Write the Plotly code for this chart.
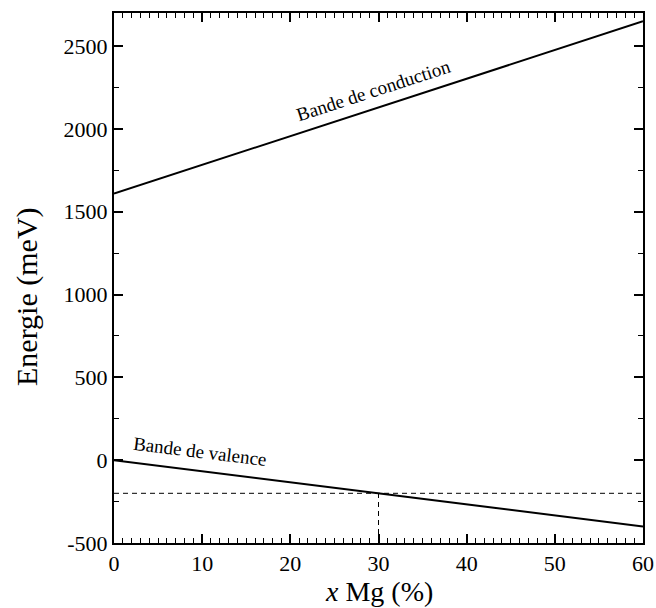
import plotly.graph_objects as go

# Data
x_mg = [0, 60]
conduction = [1610, 2650]
valence = [0, -400]
dash_h_x = [0, 60]
dash_h_y = [-200, -200]
dash_v_x = [30, 30]
dash_v_y = [-500, -200]
x_ticks = [0, 10, 20, 30, 40, 50, 60]
y_ticks = [-500, 0, 500, 1000, 1500, 2000, 2500]
y_ticklabels = ["-500", "0", "500", "1000", "1500", "2000", "2500"]

font = "Liberation Serif"

fig = go.Figure()
fig.add_trace(go.Scatter(x=x_mg, y=conduction, mode="lines",
                         line=dict(color="black", width=2), showlegend=False))
fig.add_trace(go.Scatter(x=x_mg, y=valence, mode="lines",
                         line=dict(color="black", width=2), showlegend=False))
fig.add_trace(go.Scatter(x=dash_h_x, y=dash_h_y, mode="lines",
                         line=dict(color="black", width=1, dash="5px,4px"), showlegend=False))
fig.add_trace(go.Scatter(x=dash_v_x, y=dash_v_y, mode="lines",
                         line=dict(color="black", width=1, dash="5px,4px"), showlegend=False))

fig.add_annotation(x=29.4, y=2235, text="Bande de conduction", showarrow=False,
                   textangle=-18, font=dict(family=font, size=19, color="black"))
fig.add_annotation(x=9.8, y=55, text="Bande de valence", showarrow=False,
                   textangle=7, font=dict(family=font, size=19, color="black"))
# y-axis title
fig.add_annotation(xref="paper", yref="paper", x=-0.1645, y=0.466,
                   xanchor="center", yanchor="middle",
                   text="Energie (meV)", showarrow=False, textangle=-90,
                   font=dict(family=font, size=30, color="black"))
# x-axis title
fig.add_annotation(xref="paper", yref="paper", x=0.5, y=-0.091,
                   xanchor="center", yanchor="middle",
                   text="<i>x</i> Mg (%)", showarrow=False,
                   font=dict(family=font, size=28, color="black"))

axis_common = dict(
    showline=True, linecolor="black", linewidth=2, mirror="allticks",
    ticks="inside", ticklen=9, tickwidth=1.5, tickcolor="black",
    showgrid=False, zeroline=False,
    tickfont=dict(family=font, size=22, color="black"),
)

fig.update_xaxes(range=[0, 60], tickvals=x_ticks,
                 minor=dict(dtick=1, ticks="inside", ticklen=5, tickwidth=1.2, tickcolor="black"),
                 **axis_common)
fig.update_yaxes(range=[-500, 2700], tickvals=y_ticks, ticktext=y_ticklabels,
                 minor=dict(tickvals=[-250, 250, 750, 1250, 1750, 2250], ticks="inside",
                            ticklen=5, tickwidth=1.2, tickcolor="black"),
                 **axis_common)

fig.update_layout(width=656, height=608, plot_bgcolor="white", paper_bgcolor="white",
                  margin=dict(l=114, r=13, t=13, b=65, autoexpand=False))

fig.write_html("out.html", post_script="document.body.style.margin='0';",
               config={"displayModeBar": False})
